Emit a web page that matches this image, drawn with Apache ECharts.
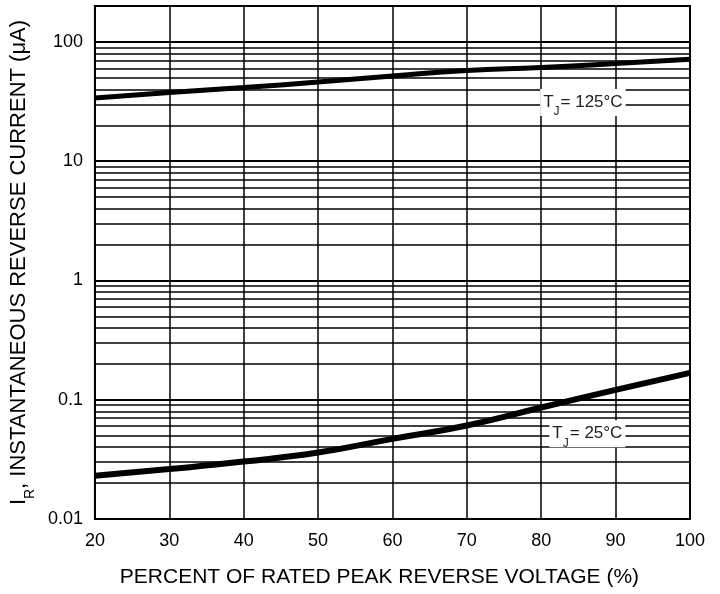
<!DOCTYPE html>
<html>
<head>
<meta charset="utf-8">
<script src="https://cdn.jsdelivr.net/npm/echarts@6/dist/echarts.min.js"></script>
<style>html,body{margin:0;padding:0;background:#fff}#c{width:720px;height:594px}</style>
</head>
<body>
<div id="c"></div>
<script>
const xValues = [20, 30, 40, 50, 60, 70, 80, 90, 100];
const tj125 = [33.8, 37.6, 41.4, 46.1, 51.8, 57.5, 60.9, 65.8, 71.6];
const tj25 = [0.0230, 0.0262, 0.0303, 0.0361, 0.0470, 0.0608, 0.0861, 0.121, 0.168];
const yTickLabels = {'-2': '0.01', '-1': '0.1', '0': '1', '1': '10', '2': '100'};
const decades = [0.01, 0.1, 1, 10, 100];
const minorMultipliers = [2, 3, 4, 5, 6, 7, 8, 9];
const label125 = {x: 85.6, y: 31.1, text: '125°C'};
const label25 = {x: 86.2, y: 0.0518, text: '25°C'};

const tickFont = "'Liberation Sans Narrow', 'Arial Narrow', 'Liberation Sans', sans-serif";
const textFont = "'Liberation Sans', Arial, sans-serif";

const gridLines = [];
decades.forEach(d => {
  gridLines.push({yAxis: d, lineStyle: {width: 2}});
  if (d < 100) minorMultipliers.forEach(m => gridLines.push({yAxis: +(d * m).toPrecision(3), lineStyle: {width: 1.5}}));
});
gridLines.push({yAxis: 200, lineStyle: {width: 1.5}});

function pairs(ys) { return xValues.map((x, i) => [x, ys[i]]); }

const labelRich = {
  t: {fontFamily: textFont, fontSize: 17, color: '#222'},
  s: {fontFamily: textFont, fontSize: 12, color: '#222', verticalAlign: 'bottom', padding: [0, 1, -7, 0]}
};
function tjMark(l) {
  return {
    silent: true,
    symbol: 'circle', symbolSize: 0,
    data: [{coord: [l.x, l.y], value: l.text}],
    label: {
      show: true, position: 'inside',
      formatter: '{t|T}{s|J}{t|= ' + l.text + '}',
      backgroundColor: '#fff', padding: [5, 3, 5, 3],
      rich: labelRich
    }
  };
}

const chart = echarts.init(document.getElementById('c'));
chart.setOption({
  animation: false,
  backgroundColor: '#fff',
  grid: {left: 94, right: 30, top: 6, bottom: 75, show: true, borderColor: '#000', borderWidth: 2, backgroundColor: 'transparent'},
  xAxis: {
    type: 'value', min: 20, max: 100, interval: 10,
    axisLine: {show: false}, axisTick: {show: false},
    splitLine: {show: true, lineStyle: {color: '#000', width: 1.5}},
    axisLabel: {color: '#000', fontFamily: tickFont, fontSize: 18, margin: 13},
    name: 'PERCENT OF RATED PEAK REVERSE VOLTAGE (%)',
    nameLocation: 'middle', nameGap: 48,
    nameTextStyle: {color: '#000', fontFamily: textFont, fontSize: 21, padding: [0, 26, 0, 0]}
  },
  yAxis: {
    type: 'log', logBase: 10, min: 0.01, max: 200,
    axisLine: {show: false}, axisTick: {show: false},
    splitLine: {show: false}, minorSplitLine: {show: false},
    axisLabel: {
      color: '#000', fontFamily: tickFont, fontSize: 18, margin: 12,
      formatter: v => {
        const l = Math.log10(v), r = Math.round(l);
        return Math.abs(l - r) < 1e-6 && yTickLabels[String(r)] !== undefined ? yTickLabels[String(r)] : '';
      }
    },
    name: '{a|I}{b|R}{a|, INSTANTANEOUS REVERSE CURRENT (μA)}',
    nameLocation: 'middle', nameGap: 62, nameRotate: 90,
    nameTextStyle: {
      rich: {
        a: {color: '#000', fontFamily: textFont, fontSize: 22},
        b: {color: '#000', fontFamily: textFont, fontSize: 14, verticalAlign: 'bottom', padding: [0, 0, -7, 0]}
      }
    }
  },
  series: [
    {
      type: 'line', data: [], z: 1, silent: true,
      markLine: {silent: true, symbol: 'none', label: {show: false}, lineStyle: {color: '#000', type: 'solid'}, data: gridLines, animation: false}
    },
    {
      name: 'TJ=125', type: 'line', data: pairs(tj125), smooth: true, symbol: 'none', z: 3,
      lineStyle: {color: '#000', width: 5},
      markPoint: tjMark(label125)
    },
    {
      name: 'TJ=25', type: 'line', data: pairs(tj25), smooth: true, symbol: 'none', z: 3,
      lineStyle: {color: '#000', width: 6},
      markPoint: tjMark(label25)
    }
  ]
});
</script>
</body>
</html>
